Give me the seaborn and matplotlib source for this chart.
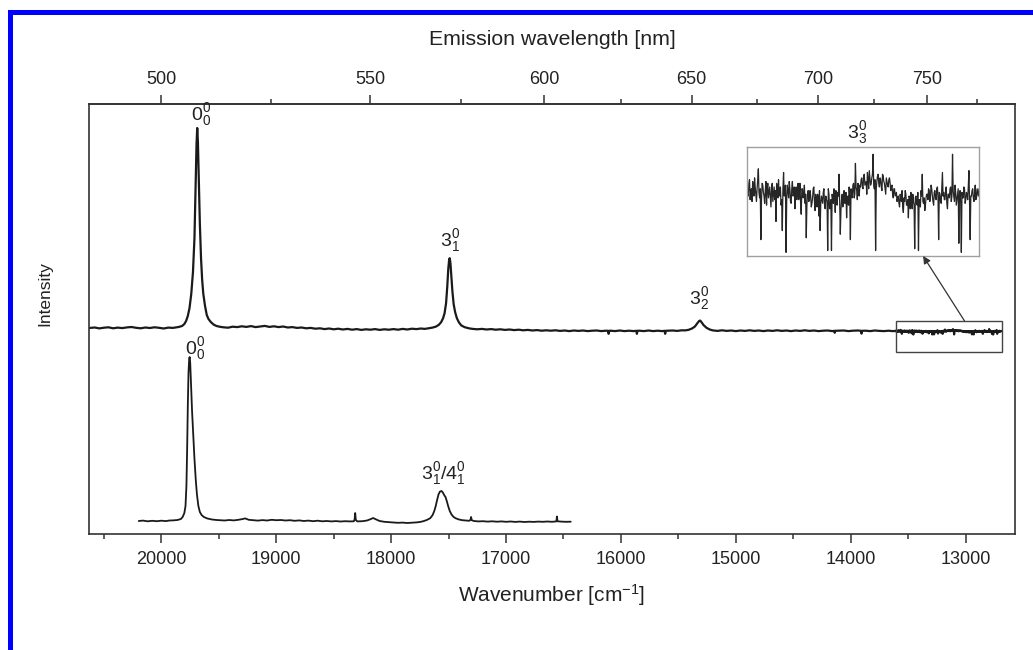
import numpy as np
import pandas as pd
import matplotlib
matplotlib.use("Agg")
import matplotlib.pyplot as plt
from matplotlib.patches import Rectangle, ConnectionPatch
from matplotlib.ticker import FixedLocator
import seaborn as sns

# ---------------------------------------------------------------------------
# Emission spectra (wavenumber in cm^-1, intensity in counts)
# ---------------------------------------------------------------------------
upper_wn = [
    20630, 20580, 20540, 20500, 20460, 20420, 20380, 20340, 20300, 20260,
    20220, 20180, 20140, 20100, 20060, 20020, 19980, 19940, 19900, 19870,
    # 0-0 band
    19850, 19820, 19800, 19785, 19770, 19755, 19740, 19725, 19712, 19702,
    19694, 19688, 19682, 19674, 19665, 19655, 19645, 19635, 19620, 19605,
    19590, 19570, 19545, 19520, 19490,
    19460, 19420, 19380, 19340, 19300, 19260, 19220, 19180, 19140, 19100,
    19060, 19020, 18980, 18940, 18900, 18860, 18820, 18780, 18740, 18700,
    18660, 18620, 18580, 18540, 18500, 18460, 18420, 18380, 18340, 18300,
    18260, 18220, 18180, 18140, 18100, 18060, 18020, 17980, 17940, 17900,
    17860, 17820, 17780, 17740, 17710,
    # 3_1 band
    17680, 17640, 17610, 17585, 17565, 17548, 17535, 17522, 17512, 17503,
    17495, 17490, 17484, 17476, 17467, 17456, 17443, 17428, 17410, 17390,
    17360, 17320,
    17290, 17250, 17210, 17170, 17130, 17090, 17050, 17010, 16970, 16930,
    16890, 16850, 16810, 16770, 16730, 16690, 16650, 16610, 16570, 16530,
    16490, 16450, 16410, 16370, 16330, 16290, 16250, 16210, 16170, 16130,
    16112, 16107, 16102, 16090, 16050, 16010, 15970, 15930, 15890, 15866,
    15861, 15856, 15840, 15800, 15760, 15720, 15680, 15640, 15620, 15615,
    15610, 15590, 15550, 15510, 15470,
    # 3_2 band
    15440, 15410, 15380, 15355, 15335, 15318, 15310, 15300, 15280, 15255,
    15225, 15200,
    15160, 15120, 15080, 15040, 15000, 14960, 14920, 14880, 14840, 14800,
    14760, 14720, 14680, 14640, 14600, 14560, 14520, 14480, 14440, 14400,
    14360, 14320, 14280, 14240, 14200, 14160, 14144, 14139, 14134, 14100,
    14060, 14020, 13980, 13940, 13911, 13906, 13901, 13870, 13830, 13790,
    13750, 13710, 13670, 13640, 13615,
]
upper_counts = [
    0, 5, -4, 3, 7, -3, 4, -1, 6, 10,
    2, -3, 5, 0, 7, 2, -5, 4, 1, 6,
    10, 20, 40, 70, 120, 200, 340, 560, 900, 1400,
    1840, 2000, 1860, 1480, 1040, 700, 480, 340, 220, 130,
    90, 60, 34, 20, 12,
    7, 3, 13, 9, 17, 11, 19, 9, 15, 21,
    11, 17, 9, 15, 5, 9, 1, 5, -3, 1,
    -7, -3, -11, -5, -13, -7, -15, -9, -17, -11,
    -19, -13, -17, -11, -19, -13, -17, -11, -17, -9,
    -15, -7, -11, -5, -9,
    -4, 4, 14, 32, 58, 98, 148, 248, 408, 588,
    688, 698, 648, 518, 368, 238, 158, 98, 56, 26,
    8, -4,
    -9, -13, -9, -15, -11, -17, -13, -19, -15, -21,
    -17, -23, -19, -25, -21, -27, -23, -27, -23, -29,
    -25, -31, -25, -29, -25, -31, -27, -25, -31, -27,
    -28, -58, -28, -27, -31, -25, -31, -27, -31, -28,
    -58, -28, -27, -31, -25, -31, -27, -31, -28, -58,
    -28, -27, -25, -29, -23,
    -24, -18, -4, 16, 48, 72, 74, 60, 28, 2,
    -16, -24,
    -29, -23, -29, -25, -31, -25, -29, -23, -29, -25,
    -31, -25, -29, -23, -29, -25, -31, -25, -29, -23,
    -29, -25, -31, -27, -25, -31, -28, -48, -28, -27,
    -25, -31, -27, -25, -28, -56, -28, -27, -31, -25,
    -29, -31, -27, -31, -30,
]

# Densely recorded red tail of the upper spectrum (2.5 cm^-1 steps, stored
# as the 5 cm^-1 grid points and the readings in between)
tail_wn = np.arange(13610, 12685, -5)
tail_counts = [
    -28, -34, -25, -31, -37, -29, -24, -33, -30, -19,
    -35, -58, -27, -32, -38, -26, -30, -35, -29, -40,
    -27, -33, -36, -48, -30, -25, -34, -39, -53, -21,
    -32, -65, -28, -35, -30, -38, -26, -33, -41, -29,
    -31, -36, -27, -44, -30, -34, -38, -57, -33, -37,
    -31, -40, -35, -29, -42, -36, -33, -45, -53, -34,
    -38, -30, -41, -36, -64, -33, -39, -64, -35, -30,
    -43, -37, -32, -22, -55, -36, -40, -31, -38, -46,
    -34, -29, -58, -33, -28, -35, -16, -31, -27, -34,
    -29, -24, -30, -22, -27, -33, -25, -20, -28, -24,
    -11, -30, -64, -26, -22, -29, -25, -31, -23, -27,
    -33, -26, -29, -24, -31, -28, -35, -30, -33, -37,
    -34, -40, -36, -31, -43, -37, -33, -39, -46, -35,
    -32, -41, -37, -63, -34, -39, -64, -36, -31, -22,
    -38, -42, -35, -33, -30, -37, -28, -34, -39, -31,
    -36, -29, -58, -33, -38, -21, -32, -36, -29, -41,
    -33, -30, -37, -11, -34, -28, -39, -33, -60, -31,
    -65, -35, -29, -38, -32, -36, -20, -58, -34, -30,
    -37, -28, -35, -32, -30,
]
tail_mid_wn = tail_wn[:-1] - 2.5
tail_mid_counts = [
    -33, -27, -36, -30, -26, -34, -29, -37, -25, -32,
    -30, -36, -28, -34, -31, -39, -27, -32, -35, -30,
    -37, -29, -31, -27, -35, -33, -29, -36, -30, -34,
    -28, -35, -31, -26, -37, -30, -34, -29, -32, -36,
    -27, -33, -38, -30, -35, -28, -33, -39, -31, -36,
    -34, -38, -30, -37, -33, -40, -35, -31, -38, -36,
    -32, -39, -34, -37, -30, -41, -36, -33, -38, -35,
    -31, -39, -34, -37, -42, -33, -36, -38, -32, -35,
    -39, -34, -30, -35, -27, -33, -29, -36, -32, -28,
    -25, -29, -23, -28, -26, -21, -30, -24, -27, -22,
    -28, -25, -30, -23, -27, -24, -29, -22, -26, -30,
    -24, -28, -25, -27, -29, -33, -30, -34, -32, -35,
    -38, -33, -37, -40, -35, -31, -39, -36, -34, -41,
    -37, -33, -39, -35, -38, -32, -36, -40, -34, -37,
    -35, -39, -33, -36, -31, -34, -30, -37, -32, -35,
    -30, -35, -32, -37, -29, -34, -36, -31, -38, -33,
    -35, -29, -34, -31, -37, -32, -36, -30, -34, -38,
    -32, -35, -30, -36, -33, -29, -37, -34, -31, -35,
    -33, -36, -30, -34,
]

lower_wn = [
    20197, 20160, 20120, 20080, 20040, 20000, 19960, 19930,
    # 0-0 band
    19900, 19860, 19830, 19815, 19800, 19790, 19782, 19776, 19770, 19764,
    19758, 19754, 19749, 19742, 19733, 19722, 19712, 19700, 19690, 19678,
    19665, 19650, 19630, 19600, 19560, 19520,
    19490, 19450, 19410, 19370, 19330, 19300, 19270, 19240, 19200, 19160,
    19120, 19080, 19040, 19000, 18960, 18920, 18880, 18840, 18800, 18760,
    18720, 18680, 18640, 18600, 18560, 18520, 18480, 18440, 18400, 18360,
    18325, 18318, 18313, 18308, 18295, 18250, 18210, 18180, 18157, 18130,
    18100, 18060, 18020, 17980, 17940, 17900, 17860, 17820, 17780, 17750,
    # 3_1 / 4_1 band
    17720, 17690, 17660, 17640, 17625, 17612, 17600, 17588, 17575, 17562,
    17550, 17538, 17527, 17516, 17504, 17490, 17475, 17458, 17440, 17410,
    17380,
    17350, 17320, 17309, 17304, 17299, 17280, 17240, 17200, 17160, 17120,
    17080, 17040, 17000, 16960, 16920, 16880, 16840, 16800, 16760, 16720,
    16680, 16640, 16600, 16562, 16557, 16552, 16520, 16480, 16437,
]
lower_counts = [
    0, 4, -3, 2, -2, 3, -1, 5,
    6, 10, 20, 40, 80, 150, 350, 700, 1150, 1480,
    1620, 1640, 1580, 1380, 1100, 850, 620, 400, 260, 150,
    90, 60, 40, 25, 15, 10,
    8, 5, 10, 6, 12, 18, 26, 12, 8, 4,
    9, 5, 12, 8, 10, 5, 8, 2, 6, 0,
    4, -2, 3, -3, 0, -4, -1, -5, -2, -4,
    -3, 15, 80, 12, -4, -2, 5, 18, 30, 15,
    0, -8, -12, -15, -18, -16, -20, -17, -14, -10,
    -2, 10, 28, 58, 98, 150, 210, 265, 295, 300,
    285, 258, 240, 200, 150, 100, 66, 42, 28, 15,
    8,
    5, 2, 14, 40, 8, 0, -4, -2, -6, -3,
    -7, -4, -8, -5, -9, -6, -10, -7, -9, -6,
    -8, -5, -8, -4, 45, -3, -6, -8, -7,
]

# Band assignments
upper_band_wn = [19688, 17490, 15310]
upper_band_names = [r"$\mathregular{0^0_0}$", r"$\mathregular{3^0_1}$",
                    r"$\mathregular{3^0_2}$"]
lower_band_wn = [19754, 17562]
lower_band_names = [r"$\mathregular{0^0_0}$", r"$\mathregular{3^0_1/4^0_1}$"]
tail_band_name = r"$\mathregular{3^0_3}$"

# Axis ticks
nm_major = [500, 550, 600, 650, 700, 750]
nm_minor = [525, 575, 625, 675, 725, 775]
wn_major = [20000, 19000, 18000, 17000, 16000, 15000, 14000, 13000]
wn_minor = [20500, 19500, 18500, 17500, 16500, 15500, 14500, 13500, 12500]

# ---------------------------------------------------------------------------
sns.set_theme(style="ticks")
plt.rcParams["font.family"] = ["Liberation Sans", "DejaVu Sans"]
plt.rcParams["mathtext.fontset"] = "custom"
plt.rcParams["mathtext.rm"] = "Liberation Sans"
plt.rcParams["mathtext.it"] = "Liberation Sans:italic"
plt.rcParams["mathtext.bf"] = "Liberation Sans:bold"

TEXT = "#222222"
LINE = "#1a1a1a"
UPPER_OFFSET = 2060
LOWER_OFFSET = 130

tail = pd.DataFrame({
    "wn": np.concatenate([tail_wn, tail_mid_wn]),
    "counts": np.concatenate([tail_counts, tail_mid_counts]),
}).sort_values("wn", ascending=False)
upper = pd.concat([
    pd.DataFrame({"wn": upper_wn, "counts": upper_counts}), tail,
]).sort_values("wn", ascending=False)
upper["y"] = upper["counts"] + UPPER_OFFSET
lower = pd.DataFrame({"wn": lower_wn, "counts": lower_counts})
lower["y"] = lower["counts"] + LOWER_OFFSET

W, H = 1033, 650
fig = plt.figure(figsize=(W / 100, H / 100), dpi=100, facecolor="white")
ax = fig.add_axes([89 / W, 116 / H, 926 / W, 430 / H])

sns.lineplot(data=upper, x="wn", y="y", ax=ax, color=LINE, lw=1.6,
             sort=False, estimator=None)
sns.lineplot(data=lower, x="wn", y="y", ax=ax, color=LINE, lw=1.3,
             sort=False, estimator=None)

ax.set_xlim(20630, 12570)
ax.set_ylim(0, 4300)

# bottom axis: wavenumber
ax.xaxis.set_major_locator(FixedLocator(wn_major))
ax.xaxis.set_minor_locator(FixedLocator(wn_minor))
ax.set_xticklabels([str(v) for v in wn_major])
ax.tick_params(axis="x", which="major", direction="out", length=6.5, width=1.1,
               pad=6, labelsize=13, colors="#333333", labelcolor=TEXT)
ax.tick_params(axis="x", which="minor", direction="out", length=3.6, width=1.1,
               colors="#333333")
ax.set_yticks([])
ax.set_xlabel("Wavenumber [cm$^{-1}$]", fontsize=15, color=TEXT, labelpad=10)
ax.set_ylabel("Intensity", fontsize=12.5, color=TEXT)
ax.yaxis.set_label_coords(-37 / 926, 0.56)
for s in ax.spines.values():
    s.set_visible(True)
    s.set_color("#333333")
    s.set_linewidth(1.2)

# top axis: emission wavelength
def wn_to_nm(x):
    x = np.asarray(x, dtype=float)
    return 1e7 / np.where(np.abs(x) < 1, 1, x)

secax = ax.secondary_xaxis("top", functions=(wn_to_nm, wn_to_nm))
secax.xaxis.set_major_locator(FixedLocator(nm_major))
secax.xaxis.set_minor_locator(FixedLocator(nm_minor))
secax.set_xticklabels([str(v) for v in nm_major])
secax.tick_params(axis="x", which="major", direction="out", length=6.5, width=1.1,
                  pad=5, labelsize=13, colors="#333333", labelcolor=TEXT)
secax.tick_params(axis="x", which="minor", direction="out", length=3.6, width=1.1,
                  colors="#333333")
secax.spines["top"].set_color("#333333")
secax.spines["top"].set_linewidth(1.2)
secax.set_xlabel("Emission wavelength [nm]", fontsize=15.3, color=TEXT,
                 labelpad=19)

# band labels
def band_top(df, wn):
    near = df[(df["wn"] - wn).abs() <= 15]
    row = near.loc[near["counts"].idxmax()]
    return row["wn"], row["y"]

upper_label_shift = [(4, 0), (0, 4), (-1.5, 9)]
lower_label_shift = [(5, -5), (1.5, 4)]
for wn, name, (dx, dy) in zip(upper_band_wn, upper_band_names, upper_label_shift):
    x0, y0 = band_top(upper, wn)
    ax.annotate(name, xy=(x0, y0), xytext=(dx, dy), textcoords="offset pixels",
                ha="center", va="bottom", fontsize=14, color=TEXT)
for wn, name, (dx, dy) in zip(lower_band_wn, lower_band_names, lower_label_shift):
    x0, y0 = band_top(lower, wn)
    ax.annotate(name, xy=(x0, y0), xytext=(dx, dy), textcoords="offset pixels",
                ha="center", va="bottom", fontsize=14, color=TEXT)

# box marking the magnified region
tail_lo, tail_hi = tail["wn"].min() - 3, tail["wn"].max()
box_bottom, box_top = UPPER_OFFSET - 240, UPPER_OFFSET + 70
ax.add_patch(Rectangle((tail_lo, box_bottom), tail_hi - tail_lo, box_top - box_bottom,
                       fill=False, edgecolor="#444444", lw=1.0, zorder=3))

# magnified inset of the red tail
ax_in = fig.add_axes([747 / W, (H - 256) / H, 232 / W, 109 / H])
sns.lineplot(data=tail, x="wn", y="counts", ax=ax_in, color="#262626", lw=0.9,
             sort=False, estimator=None)
ax_in.set_xlim(tail_hi, tail_lo + 3)
ax_in.set_ylim(-67, -7)
ax_in.set_xticks([])
ax_in.set_yticks([])
ax_in.set_xlabel("")
ax_in.set_ylabel("")
for s in ax_in.spines.values():
    s.set_visible(True)
    s.set_color("#a0a0a0")
    s.set_linewidth(1.0)
ax_in.text(0.475, 1.01, tail_band_name, transform=ax_in.transAxes,
           ha="center", va="bottom", fontsize=14, color=TEXT)

arrow = ConnectionPatch(xyA=(13009, box_top), coordsA=ax.transData,
                        xyB=(0.759, 0.0), coordsB=ax_in.transAxes,
                        arrowstyle="-|>", mutation_scale=11, color="#333333",
                        lw=0.9, shrinkA=0, shrinkB=0)
fig.add_artist(arrow)

# page frame
fig.add_artist(Rectangle((8 / W, 0), 5 / W, (H - 10) / H, transform=fig.transFigure,
                         facecolor="#0000ff", edgecolor="none"))
fig.add_artist(Rectangle((8 / W, (H - 15) / H), 1 - 8 / W, 5 / H,
                         transform=fig.transFigure, facecolor="#0000ff",
                         edgecolor="none"))

fig.savefig("out.png", dpi=100, facecolor="white")
